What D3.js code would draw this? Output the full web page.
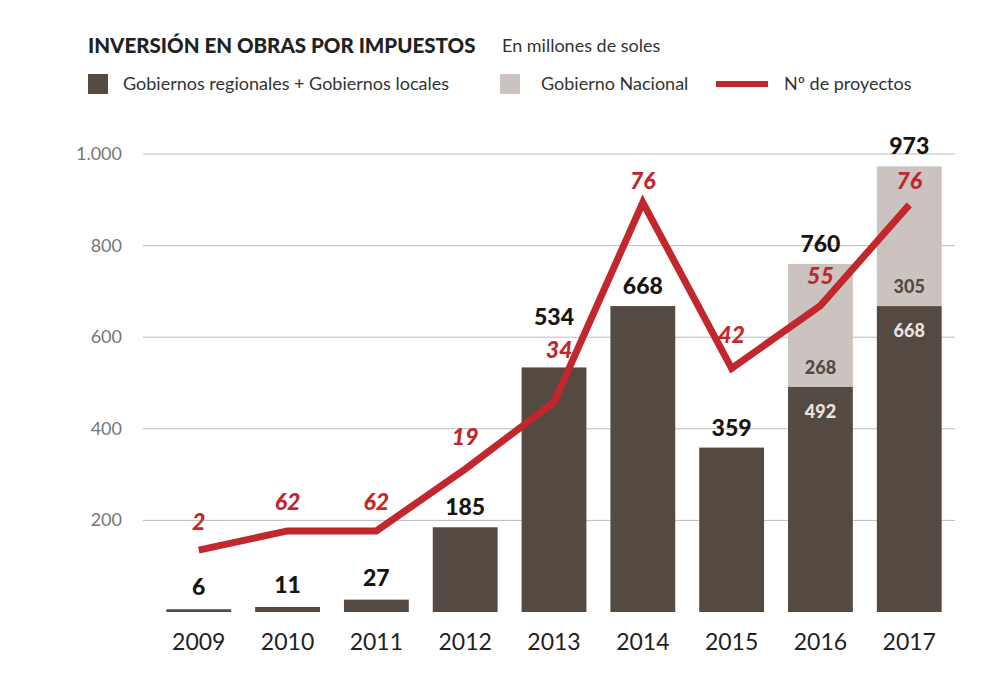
<!DOCTYPE html>
<html><head><meta charset="utf-8">
<script src="https://cdn.jsdelivr.net/npm/d3@7"></script>
<style>body{margin:0;background:#fff;font-family:Lato,"Open Sans",sans-serif;}</style>
</head><body>
<script>
// Values
var years = [2009, 2010, 2011, 2012, 2013, 2014, 2015, 2016, 2017];
var regional = [6, 11, 27, 185, 534, 668, 359, 492, 668];
var nacional = [0, 0, 0, 0, 0, 0, 0, 268, 305];
var proyectos = [2, 62, 62, 19, 34, 76, 42, 55, 76];
// position of the red line, on the same axis as the bars
var linePos = [135, 177, 177, 312, 458, 894, 532, 669, 889];
var colors = {dark: "#554a42", light: "#cbc3bf", red: "#c1272d"};

var svg = d3.select("body").append("svg").attr("width", 1000).attr("height", 688);

var x = d3.scaleBand().domain(years).range([153, 955]).paddingInner(0.27).paddingOuter(0.15);
var y = d3.scaleLinear().domain([0, 1000]).range([612, 154]);

// title + legend
svg.append("text").attr("x", 88).attr("y", 53).attr("font-size", 20.5).attr("font-weight", 900)
    .attr("fill", "#222").text("INVERSIÓN EN OBRAS POR IMPUESTOS");
svg.append("text").attr("x", 502).attr("y", 52).attr("font-size", 18).attr("fill", "#333").text("En millones de soles");
svg.append("rect").attr("x", 88).attr("y", 74).attr("width", 20).attr("height", 20).attr("fill", colors.dark);
svg.append("text").attr("x", 123).attr("y", 90).attr("font-size", 18).attr("fill", "#333").text("Gobiernos regionales + Gobiernos locales");
svg.append("rect").attr("x", 500).attr("y", 74).attr("width", 20).attr("height", 20).attr("fill", colors.light);
svg.append("text").attr("x", 541).attr("y", 90).attr("font-size", 18).attr("fill", "#333").text("Gobierno Nacional");
svg.append("line").attr("x1", 716).attr("x2", 768).attr("y1", 84).attr("y2", 84).attr("stroke", colors.red).attr("stroke-width", 6);
svg.append("text").attr("x", 784).attr("y", 90).attr("font-size", 18).attr("fill", "#333").text("Nº de proyectos");

// grid + y labels
var ticks = [200, 400, 600, 800, 1000];
svg.selectAll(".grid").data(ticks).enter().append("line")
    .attr("x1", 143).attr("x2", 955).attr("y1", y).attr("y2", y)
    .attr("stroke", "#bbb").attr("stroke-width", 1);
svg.selectAll(".ylab").data(ticks).enter().append("text")
    .attr("x", 122).attr("y", function(d) { return y(d) + 6; }).attr("text-anchor", "end")
    .attr("font-size", 18).attr("fill", "#777")
    .text(function(d) { return d3.format(",")(d).replace(",", "."); });

// bars
var g = svg.selectAll(".bar").data(years).enter().append("g");
g.append("rect").attr("x", function(d) { return x(d); }).attr("width", x.bandwidth())
    .attr("y", function(d, i) { return y(regional[i]); })
    .attr("height", function(d, i) { return y(0) - y(regional[i]); })
    .attr("fill", colors.dark);
g.filter(function(d, i) { return nacional[i] > 0; }).append("rect")
    .attr("x", function(d) { return x(d); }).attr("width", x.bandwidth())
    .attr("y", function(d) { var i = years.indexOf(d); return y(regional[i] + nacional[i]); })
    .attr("height", function(d) { var i = years.indexOf(d); return y(regional[i]) - y(regional[i] + nacional[i]); })
    .attr("fill", colors.light);

var cx = function(d) { return x(d) + x.bandwidth() / 2; };
// totals
g.append("text").attr("x", cx).attr("text-anchor", "middle").attr("font-size", 23).attr("font-weight", 900)
    .attr("fill", "#1a1410")
    .attr("y", function(d, i) { return y(regional[i] + nacional[i]) - (i < 3 ? 14 : i == 4 ? 42 : 12); })
    .text(function(d, i) { return regional[i] + nacional[i]; });
// segment labels
var seg = g.filter(function(d, i) { return nacional[i] > 0; });
seg.append("text").attr("x", cx).attr("text-anchor", "middle").attr("font-size", 18).attr("font-weight", 900)
    .attr("fill", "#e8e4e2").attr("y", function(d) { return y(regional[years.indexOf(d)]) + 31; })
    .text(function(d) { return regional[years.indexOf(d)]; });
seg.append("text").attr("x", cx).attr("text-anchor", "middle").attr("font-size", 18).attr("font-weight", 900)
    .attr("fill", "#554a42").attr("y", function(d) { return y(regional[years.indexOf(d)]) - 13; })
    .text(function(d) { return nacional[years.indexOf(d)]; });

// x labels
g.append("text").attr("x", cx).attr("y", 650).attr("text-anchor", "middle").attr("font-size", 23)
    .attr("fill", "#222").text(function(d) { return d; });

// red line
var line = d3.line().x(function(d, i) { return cx(years[i]); }).y(function(d) { return y(d); });
svg.append("path").datum(linePos).attr("d", line).attr("fill", "none")
    .attr("stroke", colors.red).attr("stroke-width", 7).attr("stroke-linejoin", "miter");
var off = [-20, -21, -21, -24, -44, -14, -25, -22, -16];
svg.selectAll(".plab").data(proyectos).enter().append("text")
    .attr("x", function(d, i) { return cx(years[i]) + (i == 4 ? 5 : 0); })
    .attr("y", function(d, i) { return y(linePos[i]) + off[i]; })
    .attr("text-anchor", "middle").attr("font-size", 23).attr("font-weight", 900).attr("font-style", "italic")
    .attr("fill", colors.red).text(function(d) { return d; });
</script>
</body></html>
